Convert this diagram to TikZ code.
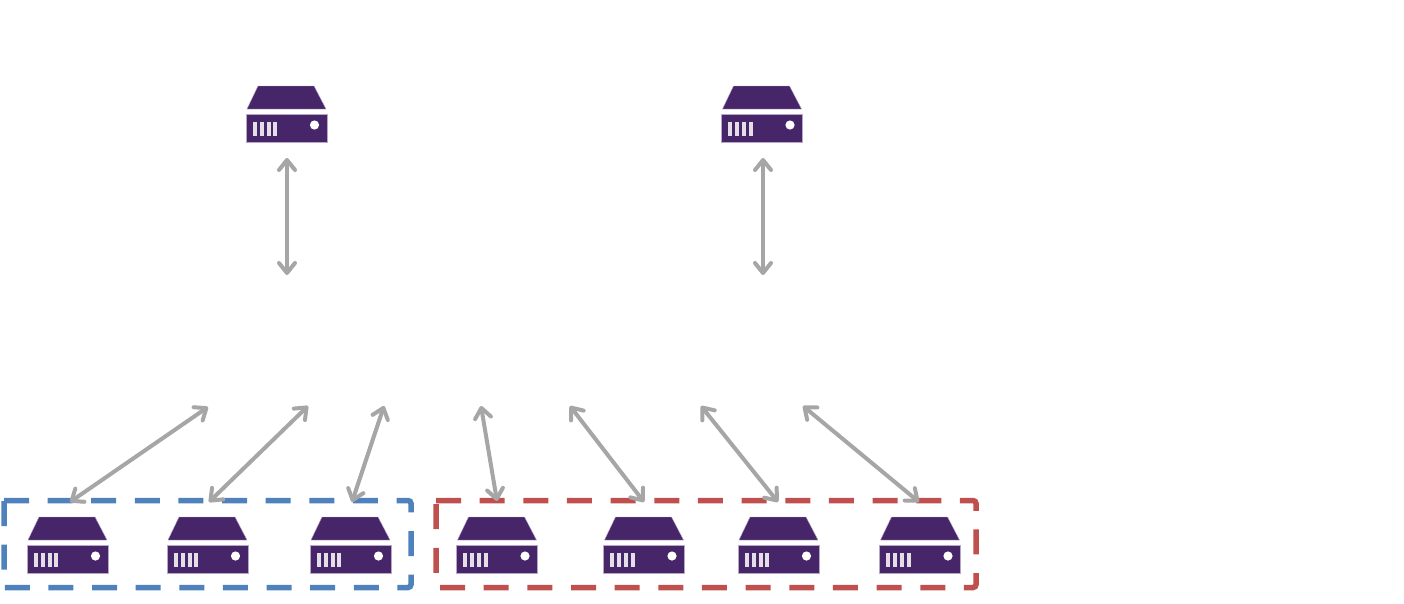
\documentclass[tikz,border=0pt]{standalone}
\usetikzlibrary{arrows.meta}
\definecolor{srv}{HTML}{462568}
\definecolor{srvedge}{HTML}{B7A6C8}
\definecolor{arrowgray}{HTML}{A6A6A6}
\definecolor{bluebox}{HTML}{4F81BD}
\definecolor{redbox}{HTML}{C0504D}
\tikzset{
  x=1pt,y=-1pt,
  barb/.tip={Straight Barb[length=10pt,width=16pt,line width=4pt,round]},
  link/.style={draw=arrowgray,line width=4pt,barb-barb},
  groupbox/.style={line width=5.5pt},
  serverpic/.pic={
    \fill[srv,draw=srvedge,line width=.4pt] (12,0) -- (68,0) -- (80,23) -- (1,23) -- cycle;
    \fill[srv,draw=srvedge,line width=.6pt] (0,28) rectangle (81,56.5);
    \foreach \bx in {6.5,13.5,20.5,27}
      \fill[white!85!srv] (\bx,36) rectangle ++(4,14);
    \fill[white] (68.5,39) circle (4.6);
  }
}
\begin{document}
\begin{tikzpicture}
\useasboundingbox (0,0) rectangle (1404,603);
% servers
\pic at (246,86) {serverpic};
\pic at (721.5,86) {serverpic};
\pic at (27,517) {serverpic};
\pic at (167,517) {serverpic};
\pic at (310,517) {serverpic};
\pic at (456.5,517) {serverpic};
\pic at (603.5,517) {serverpic};
\pic at (738,517) {serverpic};
\pic at (879.5,517) {serverpic};
% group boxes
\draw[groupbox,draw=bluebox,dash pattern=on 25pt off 18.62pt] (4,500.5) [rounded corners=3pt] -- (411,500.5) -- (411,587.5) [sharp corners] -- (4,587.5) -- (4,500.5);
\draw[groupbox,draw=redbox,dash pattern=on 25pt off 18.66pt] (436,500.5) [rounded corners=3pt] -- (976,500.5) -- (976,587.5) [sharp corners] -- (436,587.5) -- (436,500.5);
% connector ends
\coordinate (t1) at (287,158);
\coordinate (u1) at (287,275);
\coordinate (t2) at (763,158);
\coordinate (u2) at (763,275);
\coordinate (a1) at (208,407);
\coordinate (b1) at (70,502);
\coordinate (a2) at (308,406);
\coordinate (b2) at (209,502);
\coordinate (a3) at (384,406);
\coordinate (b3) at (352,502);
\coordinate (a4) at (481,406);
\coordinate (b4) at (497,501);
\coordinate (a5) at (570,406);
\coordinate (b5) at (644,502);
\coordinate (a6) at (701,406);
\coordinate (b6) at (778,502);
\coordinate (a7) at (803,406);
\coordinate (b7) at (919,502);
% connectors
\draw[link] (t1) -- (u1);
\draw[link] (t2) -- (u2);
\foreach \i in {1,...,7} \draw[link] (a\i) -- (b\i);
\end{tikzpicture}
\end{document}
